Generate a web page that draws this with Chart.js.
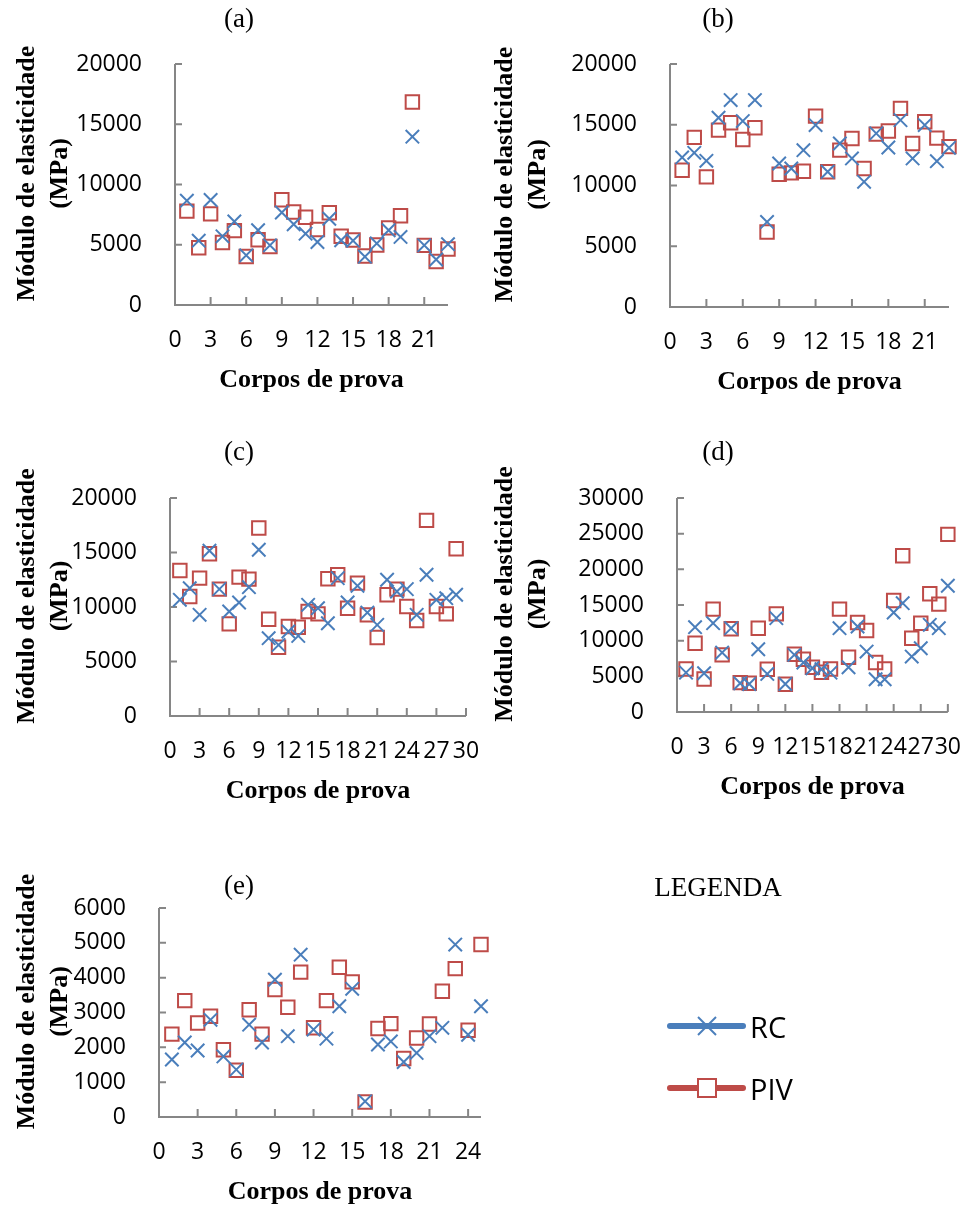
<!DOCTYPE html>
<html>
<head>
<meta charset="utf-8">
<script src="https://cdn.jsdelivr.net/npm/chart.js@4"></script>
<style>
  body { margin: 0; background: #fff; }
  #page { position: relative; width: 975px; height: 1207px; overflow: hidden; }
  #page canvas { position: absolute; left: 0; top: 0; pointer-events: none; }
  .legtitle { position: absolute; font: 27px "Liberation Serif", serif; color: #000; transform: translate(-50%, -50%); white-space: nowrap; }
  .legtext { position: absolute; font: 29px "Open Sans", sans-serif; color: #000; transform: translateY(-50%); line-height: 1; }
</style>
</head>
<body>
<div id="page">
  <canvas id="chart-a" width="975" height="1207"></canvas>
  <canvas id="chart-b" width="975" height="1207"></canvas>
  <canvas id="chart-c" width="975" height="1207"></canvas>
  <canvas id="chart-d" width="975" height="1207"></canvas>
  <canvas id="chart-e" width="975" height="1207"></canvas>
  <div class="legtitle" style="left:718px; top:887px;">LEGENDA</div>
  <svg style="position:absolute; left:0; top:0;" width="975" height="1207">
    <line x1="670" y1="1026" x2="743" y2="1026" stroke="#4a7ebb" stroke-width="6" stroke-linecap="round"/>
    <line x1="698" y1="1017" x2="716" y2="1035" stroke="#4a7ebb" stroke-width="2"/>
    <line x1="698" y1="1035" x2="716" y2="1017" stroke="#4a7ebb" stroke-width="2"/>
    <line x1="670" y1="1088" x2="743" y2="1088" stroke="#be4b48" stroke-width="6" stroke-linecap="round"/>
    <rect x="698" y="1079" width="18" height="18" fill="#fff" stroke="#be4b48" stroke-width="2"/>
  </svg>
  <div class="legtext" style="left:750px; top:1026px;">RC</div>
  <div class="legtext" style="left:750px; top:1088px;">PIV</div>
</div>
<script>
// valores (MPa), corpo de prova 1..n
const rc_a = [8660, 5340, 8710, 5700, 6930, 4120, 6200, 4950, 7680, 6700, 5920, 5230, 7160, 5370, 5340, 4010, 5110, 6200, 5650, 13970, 4950, 3780, 5050];
const piv_a = [7790, 4750, 7560, 5190, 6170, 4020, 5420, 4850, 8740, 7720, 7280, 6270, 7650, 5700, 5400, 4060, 4980, 6400, 7400, 16850, 4950, 3610, 4650];

const rc_b = [12310, 12690, 12030, 15580, 17030, 15300, 17030, 7000, 11810, 11400, 12910, 14970, 11130, 13460, 12230, 10300, 14290, 13130, 15380, 12230, 14970, 12000, 13100];
const piv_b = [11260, 13960, 10710, 14560, 15160, 13790, 14750, 6180, 10930, 11040, 11180, 15710, 11130, 12910, 13870, 11400, 14230, 14480, 16350, 13460, 15250, 13900, 13200];

const rc_c = [10660, 11730, 9280, 15160, 11640, 9590, 10410, 11820, 15250, 7140, 6520, 7750, 7350, 10200, 9890, 8510, 12650, 10410, 11940, 9490, 8360, 12500, 11420, 11640, 9280, 12960, 10660, 10810, 11120];
const piv_c = [13350, 10960, 12650, 14890, 11640, 8450, 12740, 12560, 17240, 8880, 6310, 8210, 8150, 9590, 9370, 12590, 12960, 9890, 12190, 9280, 7200, 11120, 11640, 10050, 8760, 17950, 10050, 9370, 15340];

const rc_d = [5520, 11890, 5430, 12450, 8330, 11750, 4030, 3930, 8800, 5340, 13160, 3930, 8010, 6930, 6130, 5990, 5520, 11750, 6270, 11990, 8470, 4590, 4590, 13950, 15260, 7770, 8940, 12220, 11750, 17700];
const piv_d = [6040, 9640, 4630, 14420, 8010, 11660, 4120, 4030, 11750, 5990, 13760, 3890, 8100, 7400, 6270, 5570, 6040, 14420, 7680, 12550, 11420, 6930, 6040, 15640, 21910, 10350, 12450, 16570, 15120, 24900];

const rc_e = [1650, 2140, 1910, 2790, 1740, 1360, 2650, 2140, 3940, 2320, 4660, 2510, 2250, 3180, 3680, 450, 2080, 2170, 1580, 1840, 2320, 2560, 4950, 2360, 3180];
const piv_e = [2380, 3340, 2700, 2890, 1930, 1340, 3080, 2380, 3660, 3150, 4160, 2560, 3340, 4300, 3880, 430, 2540, 2680, 1680, 2270, 2670, 3610, 4260, 2490, 4950];

const x_title = 'Corpos de prova';
const y_title = ['Módulo de elasticidade', '(MPa)'];

const BLUE = '#4a7ebb';
const RED = '#be4b48';
const AXIS = '#868686';
const W = 975, H = 1207;
const Y_BOX = 110, X_BOX = 60;

// posicao de cada painel na pagina
const panels = [
  {id: 'chart-a', title: '(a)', rc: rc_a, piv: piv_a, x_max: 23, y_max: 20000, y_step: 5000, area: {l: 175, r: 448, t: 64, b: 305}, title_pos: [239, 20], ytitle_x: [27, 60]},
  {id: 'chart-b', title: '(b)', rc: rc_b, piv: piv_b, x_max: 23, y_max: 20000, y_step: 5000, area: {l: 670, r: 949, t: 64, b: 307}, title_pos: [718, 20], ytitle_x: [505, 538]},
  {id: 'chart-c', title: '(c)', rc: rc_c, piv: piv_c, x_max: 30, y_max: 20000, y_step: 5000, area: {l: 170, r: 466, t: 498, b: 716}, title_pos: [239, 453], ytitle_x: [27, 60]},
  {id: 'chart-d', title: '(d)', rc: rc_d, piv: piv_d, x_max: 30, y_max: 30000, y_step: 5000, area: {l: 677, r: 956, t: 498, b: 712}, title_pos: [718, 453], ytitle_x: [505, 538]},
  {id: 'chart-e', title: '(e)', rc: rc_e, piv: piv_e, x_max: 25, y_max: 6000, y_step: 1000, area: {l: 159, r: 481, t: 908, b: 1117}, title_pos: [239, 887], ytitle_x: [27, 60]}
];

function to_points(values) {
  return values.map((v, i) => ({x: i + 1, y: v}));
}

const excel_axes = {
  id: 'excel_axes',
  beforeDatasetsDraw(chart) {
    const {ctx, scales: {x, y}} = chart;
    const x0 = x.getPixelForValue(0), x1 = x.getPixelForValue(x.max);
    const y0 = y.getPixelForValue(0), y1 = y.getPixelForValue(y.max);
    ctx.save();
    ctx.strokeStyle = AXIS;
    ctx.lineWidth = 2;
    ctx.beginPath();
    ctx.moveTo(x0, y1); ctx.lineTo(x0, y0); ctx.lineTo(x1, y0);
    y.ticks.forEach(t => {
      const py = y.getPixelForValue(t.value);
      ctx.moveTo(x0, py); ctx.lineTo(x0 + 7, py);
    });
    x.ticks.forEach(t => {
      const px = x.getPixelForValue(t.value);
      ctx.moveTo(px, y0); ctx.lineTo(px, y0 - 8);
    });
    ctx.stroke();
    ctx.restore();
  },
  afterDraw(chart) {
    const p = chart.options.plugins.excel_axes;
    const {ctx, chartArea} = chart;
    ctx.save();
    ctx.fillStyle = '#000';
    ctx.textAlign = 'center';
    ctx.textBaseline = 'middle';
    ctx.font = '27px "Liberation Serif"';
    ctx.fillText(p.title, p.title_pos[0], p.title_pos[1]);
    ctx.font = 'bold 26px "Liberation Serif"';
    ctx.fillText(x_title, (chartArea.left + chartArea.right) / 2, chartArea.bottom + 75);
    const cy = (chartArea.top + chartArea.bottom) / 2 - 11;
    y_title.forEach((line, i) => {
      ctx.save();
      ctx.translate(p.ytitle_x[i], cy);
      ctx.rotate(-Math.PI / 2);
      ctx.fillText(line, 0, 0);
      ctx.restore();
    });
    ctx.restore();
  }
};

const tick_font = {family: 'Open Sans', size: 23};
const plain = v => String(v);

panels.forEach(p => {
  const a = p.area;
  new Chart(document.getElementById(p.id), {
    type: 'scatter',
    data: {
      datasets: [{
        label: 'RC',
        data: to_points(p.rc),
        pointStyle: 'crossRot',
        pointRadius: 9.5,
        pointBorderWidth: 2,
        pointBorderColor: BLUE,
        borderColor: BLUE,
        pointBackgroundColor: 'rgba(0,0,0,0)',
        clip: false
      }, {
        label: 'PIV',
        data: to_points(p.piv),
        pointStyle: 'rect',
        pointRadius: 9.5,
        pointBorderWidth: 2,
        pointBorderColor: RED,
        borderColor: RED,
        pointBackgroundColor: 'rgba(0,0,0,0)',
        clip: false
      }]
    },
    options: {
      responsive: false,
      animation: false,
      devicePixelRatio: 1,
      events: [],
      layout: {padding: {left: a.l - Y_BOX, right: W - a.r, top: a.t, bottom: H - a.b - X_BOX}},
      plugins: {
        legend: {display: false},
        tooltip: {enabled: false},
        excel_axes: {title: p.title, title_pos: p.title_pos, ytitle_x: p.ytitle_x}
      },
      scales: {
        x: {
          type: 'linear',
          min: 0,
          max: p.x_max,
          afterFit: s => { s.height = X_BOX; },
          grid: {display: false},
          border: {display: false},
          ticks: {stepSize: 3, includeBounds: false, autoSkip: false, maxRotation: 0, padding: 14, font: tick_font, color: '#000', callback: plain}
        },
        y: {
          type: 'linear',
          min: 0,
          max: p.y_max,
          afterFit: s => { s.width = Y_BOX; },
          grid: {display: false},
          border: {display: false},
          ticks: {stepSize: p.y_step, padding: 25, font: tick_font, color: '#000', callback: plain}
        }
      }
    },
    plugins: [excel_axes]
  });
});
</script>
</body>
</html>
